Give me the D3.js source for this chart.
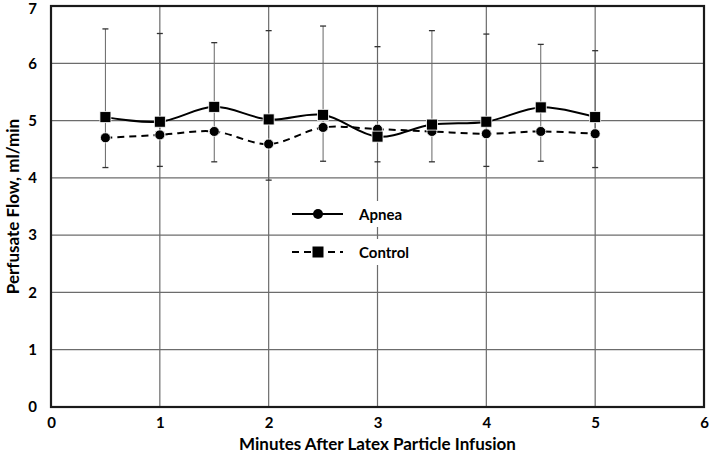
<!DOCTYPE html>
<html>
<head>
<meta charset="utf-8">
<script src="https://cdn.jsdelivr.net/npm/d3@7"></script>
<style>
  body { margin: 0; background: #fff; }
  text { font-family: Lato, "Open Sans", sans-serif; font-weight: bold; fill: #000; }
</style>
</head>
<body>
<svg id="chart"></svg>
<script>
// values
var minutes = [0.5, 1, 1.5, 2, 2.5, 3, 3.5, 4, 4.5, 5];
var squareSeries = [5.06, 4.98, 5.24, 5.02, 5.10, 4.72, 4.93, 4.98, 5.23, 5.06];   // solid line
var circleSeries = [4.70, 4.75, 4.81, 4.59, 4.88, 4.85, 4.81, 4.77, 4.81, 4.77];   // dashed line
var errTop = [6.60, 6.52, 6.36, 6.57, 6.65, 6.29, 6.57, 6.51, 6.33, 6.22];
var errBottom = [4.18, 4.20, 4.28, 3.96, 4.29, 4.28, 4.28, 4.20, 4.29, 4.18];
var xTicks = [0, 1, 2, 3, 4, 5, 6];
var yTicks = [0, 1, 2, 3, 4, 5, 6, 7];
var legendNames = ["Apnea", "Control"];

var width = 709, height = 454;
var margin = {top: 6, right: 5, bottom: 47, left: 51};

var svg = d3.select("#chart")
    .attr("width", width)
    .attr("height", height);

var x = d3.scaleLinear().domain([0, 6]).range([margin.left, width - margin.right]);
var y = d3.scaleLinear().domain([0, 7]).range([height - margin.bottom, margin.top]);

// gridlines
svg.append("g").selectAll("line").data(yTicks).enter().append("line")
    .attr("x1", x(0)).attr("x2", x(6))
    .attr("y1", function(d){ return y(d); }).attr("y2", function(d){ return y(d); })
    .attr("stroke", "#6c6c6c").attr("stroke-width", 1.2);
svg.append("g").selectAll("line").data(xTicks).enter().append("line")
    .attr("x1", function(d){ return x(d); }).attr("x2", function(d){ return x(d); })
    .attr("y1", y(0)).attr("y2", y(7))
    .attr("stroke", "#6c6c6c").attr("stroke-width", 1.2);

// axes (labels only, ticks hidden)
var xAxis = svg.append("g")
    .attr("transform", "translate(0," + y(0) + ")")
    .call(d3.axisBottom(x).tickValues(xTicks).tickSize(0).tickPadding(10).tickFormat(d3.format("d")));
xAxis.select(".domain").remove();
xAxis.selectAll("text").style("font-size", "15px").attr("fill", "#000");

var yAxis = svg.append("g")
    .attr("transform", "translate(" + x(0) + ",0)")
    .call(d3.axisLeft(y).tickValues(yTicks).tickSize(0).tickPadding(14).tickFormat(d3.format("d")));
yAxis.select(".domain").remove();
yAxis.selectAll("text").style("font-size", "15px").attr("fill", "#000");
// keep the top label inside the page
yAxis.selectAll("text").filter(function(d){ return d === 7; }).attr("y", 3);

// error bars
var bars = svg.append("g");
bars.selectAll("line.err").data(minutes).enter().append("line")
    .attr("x1", function(d){ return x(d); }).attr("x2", function(d){ return x(d); })
    .attr("y1", function(d, i){ return y(errTop[i]); })
    .attr("y2", function(d, i){ return y(errBottom[i]); })
    .attr("stroke", "#666").attr("stroke-width", 1);
[errTop, errBottom].forEach(function(arr){
    bars.selectAll(null).data(minutes).enter().append("line")
        .attr("x1", function(d){ return x(d) - 3; }).attr("x2", function(d){ return x(d) + 3; })
        .attr("y1", function(d, i){ return y(arr[i]); })
        .attr("y2", function(d, i){ return y(arr[i]); })
        .attr("stroke", "#333").attr("stroke-width", 1.3);
});

// lines
var line = d3.line().curve(d3.curveCatmullRom.alpha(0.5));
svg.append("path")
    .datum(minutes.map(function(d, i){ return [x(d), y(circleSeries[i])]; }))
    .attr("d", line).attr("fill", "none").attr("stroke", "#000")
    .attr("stroke-width", 2).attr("stroke-dasharray", "7,5");
svg.append("path")
    .datum(minutes.map(function(d, i){ return [x(d), y(squareSeries[i])]; }))
    .attr("d", line).attr("fill", "none").attr("stroke", "#000").attr("stroke-width", 2);

// markers
svg.append("g").selectAll("circle").data(minutes).enter().append("circle")
    .attr("cx", function(d){ return x(d); })
    .attr("cy", function(d, i){ return y(circleSeries[i]); })
    .attr("r", 5).attr("fill", "#000").attr("stroke", "#fff").attr("stroke-width", 0.8);
svg.append("g").selectAll("rect").data(minutes).enter().append("rect")
    .attr("x", function(d){ return x(d) - 5.5; })
    .attr("y", function(d, i){ return y(squareSeries[i]) - 5.5; })
    .attr("width", 11).attr("height", 11)
    .attr("fill", "#000").attr("stroke", "#fff").attr("stroke-width", 0.8);

// plot border
svg.append("rect")
    .attr("x", x(0)).attr("y", y(7))
    .attr("width", x(6) - x(0)).attr("height", y(0) - y(7))
    .attr("fill", "none").attr("stroke", "#1a1a1a").attr("stroke-width", 2.2);

// legend
var legend = svg.append("g").attr("transform", "translate(292,214)");
legendNames.forEach(function(name, i){
    var g = legend.append("g").attr("transform", "translate(0," + (i * 38) + ")");
    g.append("rect").attr("x", 58).attr("y", -13).attr("width", 64).attr("height", 26).attr("fill", "#fff");
    g.append("line").attr("x1", 0).attr("x2", 51).attr("y1", 0).attr("y2", 0)
        .attr("stroke", "#000").attr("stroke-width", 2)
        .attr("stroke-dasharray", i === 0 ? null : "7,5");
    if (i === 0) {
        g.append("circle").attr("cx", 26).attr("cy", 0).attr("r", 5).attr("fill", "#000");
    } else {
        g.append("rect").attr("x", 20.5).attr("y", -5.5).attr("width", 11).attr("height", 11).attr("fill", "#000");
    }
    g.append("text").attr("x", 67).attr("y", 5.5).style("font-size", "15px").text(name);
});

// axis titles
svg.append("text")
    .attr("x", (x(0) + x(6)) / 2).attr("y", 450)
    .attr("text-anchor", "middle").style("font-size", "17px")
    .text("Minutes After Latex Particle Infusion");
svg.append("text")
    .attr("transform", "translate(19," + ((y(0) + y(7)) / 2) + ") rotate(-90)")
    .attr("text-anchor", "middle").style("font-size", "17px")
    .text("Perfusate Flow, ml/min");
</script>
</body>
</html>
